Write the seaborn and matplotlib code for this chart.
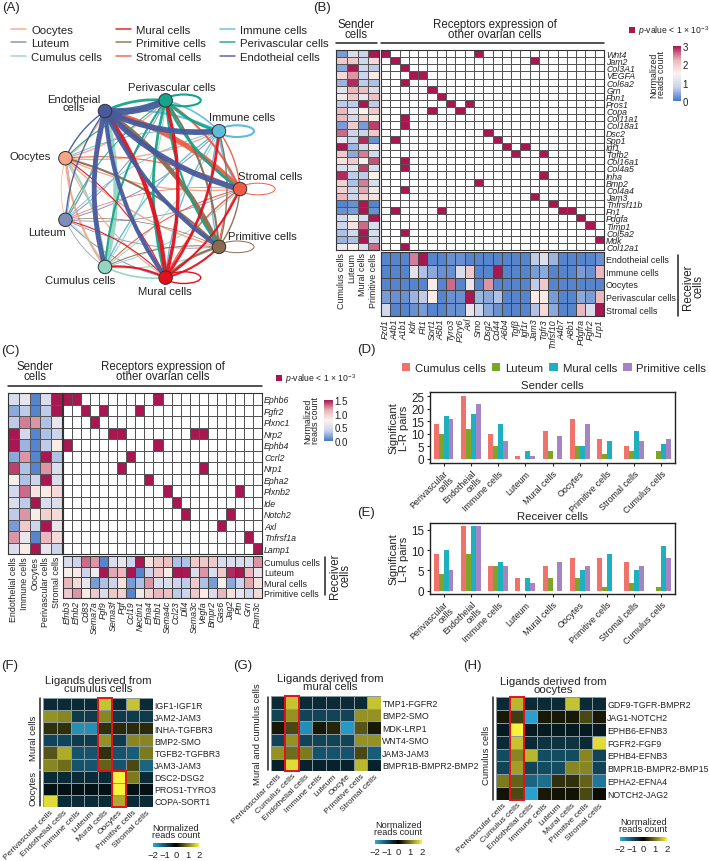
import numpy as np
import pandas as pd
import matplotlib
matplotlib.use('Agg')
import matplotlib.pyplot as plt
import seaborn as sns
from matplotlib.colors import LinearSegmentedColormap, ListedColormap
from matplotlib.lines import Line2D
from matplotlib.patches import Ellipse, FancyArrowPatch, Rectangle, Circle

# --- 1. DATA ---
# (A) network, order follows the circle clockwise from the top
net_cells = ['Perivascular cells', 'Immune cells', 'Stromal cells', 'Primitive cells', 'Mural cells',
             'Cumulus cells', 'Luteum', 'Oocytes', 'Endotheial cells']
net_colors = ['#14a58a', '#5dbcdc', '#ef5b45', '#8b6a4f', '#e3101c', '#92d5c0', '#7e8cb8', '#f7a586', '#475a9c']
net_weights = [
    [1.5, 2.0, 2.0, 1.5, 2.0, 1.5, 0.7, 0.8, 2.0],
    [1.2, 1.5, 1.5, 1.0, 1.0, 1.0, 0.6, 0.7, 1.5],
    [1.5, 1.0, 0.7, 0.8, 1.0, 0.8, 0.5, 0.8, 3.8],
    [1.5, 1.0, 1.0, 0.7, 1.5, 0.7, 0.5, 1.5, 3.5],
    [2.5, 2.0, 1.5, 1.5, 1.0, 1.5, 0.8, 0.8, 3.0],
    [0.8, 0.7, 0.7, 0.8, 1.2, 0.0, 0.5, 1.5, 3.5],
    [0.7, 0.7, 0.6, 0.6, 0.7, 0.5, 0.0, 0.5, 1.0],
    [1.0, 1.0, 1.0, 1.0, 0.8, 1.5, 0.5, 0.0, 0.8],
    [5.0, 4.0, 4.0, 3.0, 3.0, 3.5, 1.0, 1.0, 0.0],
]
legend_order = [7, 6, 5, 4, 3, 2, 1, 0, 8]

# (B)
b_senders = ['Cumulus cells', 'Luteum', 'Mural cells', 'Primitive cells']
b_ligands = ['Wnt4', 'Jam2', 'Col3A1', 'VEGFA', 'Col6a2', 'Grn', 'Fbn1', 'Pros1', 'Copa', 'Col11a1', 'Col18a1',
             'Dsc2', 'Spp1', 'Igf1', 'Tgfb2', 'Col16a1', 'Col4a5', 'Inha', 'Bmp2', 'Col4a4', 'Jam3', 'Tnfrsf11b',
             'Fn1', 'Pdgfa', 'Timp1', 'Col5a2', 'Mdk', 'Col12a1']
b_receptors = ['Fzd1', 'A4b1', 'A1b1', 'Kdr', 'Flt1', 'Sort1', 'A5b1', 'Tyro3', 'P2ry6', 'Axl', 'Smo', 'Dsg2',
               'Cd44', 'A6b4', 'Tgfβ', 'Igf1r', 'Jam3', 'Tgfr3', 'Tnfsf10', 'A4b7', 'A8b1', 'Pdgfra', 'Fgfr2', 'Lrp1']
b_receivers = ['Endotheial cells', 'Immune cells', 'Oocytes', 'Perivascular cells', 'Stromal cells']
b_sender_vals = [
    [.3, 1, .8, 3], [2, 2, .9, 1.8], [.4, 3, .8, .7], [1.8, 2.4, .8, 1.6], [.5, 2.9, .7, .6],
    [1.1, 2.2, 2.1, 1], [1.3, 2, 1.2, 2.1], [.7, .7, 3, .7], [2.2, 1.1, 1.5, 2], [2.2, .9, 2, 1.6],
    [.3, 2, .3, 2.8], [2.6, .8, .8, 2], [1.2, .8, 2.9, .2], [3, .5, .9, 1.3], [2, .4, 2.5, .9],
    [1.7, 2, 1.4, 2.7], [1, 1.1, 2.8, 1], [2.9, .7, .7, 1.5], [1.9, .6, 2.5, 1], [1.9, .8, 2.3, 1.3],
    [2.2, .8, 1.9, 1.7], [.1, .2, 3, .1], [.2, .3, 3, .2], [.9, 1.3, 1, 3], [.8, 1.7, 2.6, 1],
    [.6, .9, 3, 1], [.5, .6, 3, .8], [1.3, 1.5, 1, 2.6],
]
b_hits = [[0, 10], [1, 16], [2], [3, 4], [2], [5], [6], [7, 9], [5, 8], [2], [2], [11], [1, 12], [13, 15],
          [14, 17], [2], [2], [17], [10], [2], [16], [18], [1, 6, 19, 20], [21], [22], [2], [23], [2]]
b_receiver_vals = [
    [.1, .1, .1, 2.5, 3, .1, .1, .2, .2, .1, .1, .1, .1, .1, .1, .1, .7, 1.05, .5, .1, .1, .1, .1, .2],
    [.1, .1, .1, 1.1, .6, .4, .2, .2, 1, 2, .1, .1, 3, .1, .1, .1, .3, .4, .1, .1, .1, .3, .2, 2.2],
    [.1, .1, .1, .1, .1, 1.6, .1, 2.6, .1, 1.2, .1, 2.4, .1, .1, .1, .1, .7, 2, .1, .1, .1, .1, .1, .1],
    [.3, .2, .2, .5, .7, 1.6, .1, .2, .2, 3, .5, .4, .6, .1, .1, .1, 1.6, 1.6, .3, .1, .1, .4, .3, 2.2],
    [.9, .1, .1, .2, .3, .1, .1, .2, .2, 1.2, .8, .4, .2, .1, .1, .1, .6, 1.8, .4, .1, .1, 2.2, 1, 3],
]

# (C)
c_senders = ['Endothelial cells', 'Immune cells', 'Oocytes', 'Perivascular cells', 'Stromal cells']
c_ligands = ['Ephb6', 'Fgfr2', 'Plxnc1', 'Nrp2', 'Ephb4', 'Ccrl2', 'Nrp1', 'Epha2', 'Plxnb2', 'Ide', 'Notch2',
             'Axl', 'Tnfrsf1a', 'Lamp1']
c_receptors = ['Efnb3', 'Efnb2', 'Cd83', 'Sema7a', 'Fgf9', 'Sema3f', 'Pgf', 'Ccl19', 'Nectin1', 'Efna4', 'Efnb1',
               'Sema4c', 'Ccl23', 'Dll4', 'Sema3c', 'Vegfa', 'Bmpr2', 'Gas6', 'Jag2', 'Ptn', 'Grn', 'Fam3c']
c_receivers = ['Cumulus cells', 'Luteum', 'Mural cells', 'Primitive cells']
c_sender_vals = [
    [.5, .6, .05, .5, 1.5], [.2, .35, .05, .35, 1.5], [.35, 1.25, 1.2, .3, .6], [1.5, .45, .05, .3, .4],
    [1.5, .25, .05, .35, .8], [.2, 1.2, .05, 1.5, .3], [1.4, .3, .05, 1.2, .5], [.7, .3, .4, 1.5, .5],
    [.45, 1.3, .85, .8, .9], [.5, .35, 1.5, .5, .5], [.35, 1.2, .8, .95, .9], [.15, 1, .4, 1.5, .6],
    [1.2, .6, .05, 1.1, .9], [.5, .8, 1.5, .6, .4],
]
c_hits = [[0, 1, 10], [2, 4, 8], [3], [5, 6, 14, 15], [0, 10], [7], [6, 15], [9], [11, 19], [12], [13, 18],
          [17], [20], [21]]
c_receiver_vals = [
    [.5, .4, 1.3, 1.2, .05, .5, .6, .4, 1.5, .85, 1, 1.05, .3, .3, 1, 1, 1, .5, .5, .5, .5, 1.2],
    [.7, .8, .4, .65, 1.5, 1.15, 1.1, 1.5, .05, .4, 1, .8, 1.5, 1.5, .5, 1.2, .5, 1, 1.45, 1.5, 1.1, .6],
    [1.1, .9, .6, .15, .3, .4, .85, .15, .3, 1.2, .5, .5, .4, .35, 1, .3, .15, .7, .2, .4, 1.15, .85],
    [1, 1.2, .8, 1, .5, 1, .95, .05, .65, .95, 1.1, 1.05, .35, .4, 1, .8, .5, 1.1, .85, .6, .45, .9],
]

# (D) and (E)
bar_groups = ['Perivascular\ncells', 'Endotheial\ncells', 'Immune cells', 'Luteum', 'Mural cells', 'Oocytes',
              'Primitive cells', 'Stromal cells', 'Cumulus cells']
bar_series = ['Cumulus cells', 'Luteum', 'Mural cells', 'Primitive cells']
bar_colors = ['#f0736b', '#7ea529', '#1fb0bf', '#a583c4']
sender_counts = [[14, 25, 10, 1, 11, 16, 8, 5, 0], [10, 12, 5, 0, 3, 5, 2, 3, 3],
                 [17, 18, 14, 3, 0, 5, 7, 11, 6], [16, 22, 7, 1, 9, 14, 0, 7, 8]]
receiver_counts = [[9, 16, 6, 3, 6, 8, 8, 7, 0], [4, 9, 6, 0, 3, 3, 1, 2, 1],
                   [10, 16, 7, 3, 0, 5, 9, 5, 11], [5, 16, 6, 2, 7, 6, 0, 6, 8]]

# (F) (G) (H)
f_cols = ['Perivascular cells', 'Endothelial cells', 'Immune cells', 'Luteum', 'Mural cells', 'Oocytes',
          'Primitive cells', 'Stromal cells']
f_rows = ['IGF1-IGF1R', 'JAM2-JAM3', 'INHA-TGFBR3', 'BMP2-SMO', 'TGFB2-TGFBR3', 'JAM3-JAM3', 'DSC2-DSG2',
          'PROS1-TYRO3', 'COPA-SORT1']
f_vals = [[-.5, -.5, -.5, -.5, 1.6, -.5, 1.6, -.5], [1.2, 1.1, -.7, -.7, 1.1, -.7, -.7, -.7],
          [.4, .4, -1.7, -1.7, .4, .35, .35, .35], [-.8, -.8, -.7, -.7, 1.2, -.7, 1.1, 1.1],
          [.7, 1.4, -1, -1, .4, -1, -1.1, 1], [1.1, .9, -1, -1, .8, -1, .6, -1.2],
          [-.5, -.5, -.5, -.5, -.5, 2, 1, -.5], [-.2, -.2, -.2, -.2, -.2, 2, -.2, -.2],
          [1.8, -.5, -.5, -.5, -.5, 1.4, -.5, -.5]]
g_cols = ['Perivascular cells', 'Cumulus cells', 'Endothelial cells', 'Immune cells', 'Luteum', 'Oocyte',
          'Primitive cells', 'Stromal cells']
g_rows = ['TMP1-FGFR2', 'BMP2-SMO', 'MDK-LRP1', 'WNT4-SMO', 'JAM3-JAM3', 'BMPR1B-BMPR2-BMP2']
g_vals = [[-.5, 1.6, -.5, -.5, -.5, -.5, -.5, 1.6], [-.8, 1.2, -.8, -.8, -.8, -.8, 1.2, 1.2],
          [.2, .6, -1.7, .2, .3, -1.8, .7, .2], [-.8, 1.2, -.8, -.8, -.8, -.8, 1.2, 1.2],
          [1.2, .9, 1, -1, -1, -1, .6, -1.1], [-.4, 1.8, -.4, -.4, -.4, -.4, 1.5, -.4]]
h_cols = ['Perivascular cells', 'Cumulus cells', 'Endothelial cells', 'Immune cells', 'Luteum', 'Mural cells',
          'Primitive cells', 'Stromal cells']
h_rows = ['GDF9-TGFR-BMPR2', 'JAG1-NOTCH2', 'EPHB6-EFNB3', 'FGFR2-FGF9', 'EPHB4-EFNB3', 'BMPR1B-BMPR2-BMP15',
          'EPHA2-EFNA4', 'NOTCH2-JAG2']
h_vals = [[-.5, 1.5, -.5, -.5, -.5, 1.6, -.5, -.5], [.2, .5, -1.9, .2, .2, .2, .6, .2],
          [-.3, 2, -.3, -.3, -.3, -.3, -.3, -.3], [-.5, 1.6, -.5, -.6, -.6, -.6, -.5, 1.8],
          [-.9, 1.1, 1.5, -.9, -.9, -.9, 1.1, -.8], [-.8, 1.3, -.8, -.9, -.9, 1.1, 1.1, -.8],
          [1, .8, -1.2, -1.3, .4, .4, .8, -1.4], [.15, .6, -1.9, .2, .15, .15, .6, .1]]

# --- 2. SETUP ---
W, H = 709, 862
sns.set_theme(style='white')
plt.rcParams['font.family'] = ['Liberation Sans', 'DejaVu Sans']
plt.rcParams['mathtext.fontset'] = 'custom'
plt.rcParams['mathtext.rm'] = 'Liberation Sans'
plt.rcParams['mathtext.it'] = 'Liberation Sans:italic'
TXT = '#222222'

fig = plt.figure(figsize=(W / 100, H / 100), dpi=100)
rdbu = LinearSegmentedColormap.from_list('rb', ['#4679c8', '#c9d3ec', '#fdf3ec', '#e9b4bb', '#a8174f'])
hit_cmap = ListedColormap(['white', '#a8174f'])
byk = LinearSegmentedColormap.from_list('byk', ['#2aa9d8', '#000000', '#f6f23e'])


def ax_px(x0, y0, x1, y1):
    return fig.add_axes([x0 / W, 1 - y1 / H, (x1 - x0) / W, (y1 - y0) / H])


def txt(x, y, s, size=8, ha='center', va='center', **kw):
    fig.text(x / W, 1 - y / H, s, fontsize=size, ha=ha, va=va, color=TXT, linespacing=0.85, **kw)


def line_px(x0, y0, x1, y1, lw=1.1):
    fig.add_artist(Line2D([x0 / W, x1 / W], [1 - y0 / H, 1 - y1 / H], color='#222222', lw=lw))


def square_px(x, y, size=5.5):
    fig.add_artist(Rectangle((x / W, 1 - (y + size) / H), size / W, size / H, fc='#a8174f', ec='none',
                             transform=fig.transFigure))


def hit_frame(rows, cols, hits):
    m = np.zeros((len(rows), len(cols)))
    for i, idx in enumerate(hits):
        m[i, idx] = 1
    return pd.DataFrame(m, index=rows, columns=cols)


def expr_panel(s_box, m_box, r_box, cb_box, senders, ligands, receptors, receivers,
               s_vals, hits, r_vals, vmax, ticks, fmt):
    # sender heat, interaction grid and receiver heat share one colour scale
    ax_s = ax_px(*s_box)
    sns.heatmap(pd.DataFrame(s_vals, index=ligands, columns=senders), ax=ax_s, cmap=rdbu, vmin=0, vmax=vmax,
                cbar=False, linewidths=0.4, linecolor='#555555', xticklabels=True, yticklabels=False)
    ax_s.set_xticklabels(senders, rotation=90, fontsize=6.4, color=TXT)
    ax_m = ax_px(*m_box)
    sns.heatmap(hit_frame(ligands, receptors, hits), ax=ax_m, cmap=hit_cmap, vmin=0, vmax=1, cbar=False,
                linewidths=0.6, linecolor='#555555', xticklabels=False, yticklabels=True)
    ax_m.yaxis.tick_right()
    ax_m.set_yticklabels(ligands, rotation=0, fontsize=6.3, style='italic', color=TXT)
    ax_r = ax_px(*r_box)
    cb_ax = ax_px(*cb_box)
    sns.heatmap(pd.DataFrame(r_vals, index=receivers, columns=receptors), ax=ax_r, cmap=rdbu, vmin=0, vmax=vmax,
                cbar_ax=cb_ax, linewidths=0.5, linecolor='#444444', xticklabels=True, yticklabels=True)
    ax_r.yaxis.tick_right()
    ax_r.set_yticklabels(receivers, rotation=0, fontsize=6.4, color=TXT)
    ax_r.set_xticklabels(receptors, rotation=90, fontsize=6.4, style='italic', color=TXT)
    cb_ax.set_yticks(ticks)
    cb_ax.set_yticklabels([fmt % t for t in ticks], fontsize=7, color=TXT)
    cb_ax.tick_params(length=0, pad=1)
    for ax in (ax_s, ax_m, ax_r):
        ax.tick_params(length=0, pad=1.5)
        ax.set_xlabel('')
        ax.set_ylabel('')
        for sp in ax.spines.values():
            sp.set_visible(True)
            sp.set_color('#333333')
            sp.set_linewidth(0.8)


def ligand_panel(box, cb_box, rows, cols, vals, boxes):
    ax = ax_px(*box)
    cb_ax = ax_px(*cb_box)
    sns.heatmap(pd.DataFrame(vals, index=rows, columns=cols), ax=ax, cmap=byk, vmin=-2, vmax=2, cbar_ax=cb_ax,
                cbar_kws={'orientation': 'horizontal'}, linewidths=0.4, linecolor='#8a9aa0',
                xticklabels=True, yticklabels=True)
    ax.yaxis.tick_right()
    ax.set_yticklabels(rows, rotation=0, fontsize=6.3, color=TXT)
    ax.set_xticklabels(cols, rotation=45, ha='right', rotation_mode='anchor', fontsize=6.1, color=TXT)
    ax.tick_params(length=0, pad=1)
    for col, row, n in boxes:
        ax.add_patch(Rectangle((col, row), 1, n, fill=False, ec='#e3101c', lw=1.4, clip_on=False, zorder=5))
    cb_ax.set_xticks([-2, -1, 0, 1, 2])
    cb_ax.set_xticklabels(['\u22122', '\u22121', '0', '1', '2'], fontsize=6.8, color=TXT)
    cb_ax.tick_params(length=0, pad=2)
    x = (cb_box[0] + cb_box[2]) / 2
    txt(x, cb_box[1] - 12, 'Normalized\nreads count', size=6.6)


def bar_panel(box, counts, title, ylim, yticks):
    ax = ax_px(*box)
    long_df = pd.DataFrame(np.array(counts).T, index=bar_groups, columns=bar_series).reset_index().melt(
        id_vars='index', var_name='series', value_name='pairs')
    sns.barplot(data=long_df, x='index', y='pairs', hue='series', palette=bar_colors, width=0.72, ax=ax,
                legend=False, saturation=1, linewidth=0)
    ax.set_ylim(*ylim)
    ax.set_yticks(yticks)
    ax.tick_params(axis='y', labelsize=8.4, labelcolor=TXT, length=2.5, width=0.8, left=True, pad=1.5)
    ax.tick_params(axis='x', length=2.5, width=0.8, bottom=True, pad=1.5)
    ax.set_xticks(range(len(bar_groups)))
    ax.set_xticklabels(bar_groups, rotation=45, ha='right', rotation_mode='anchor', fontsize=6.4, color=TXT,
                       linespacing=0.95)
    ax.set_xlabel('')
    ax.set_ylabel('Significant\nL-R pairs', fontsize=8, color=TXT, labelpad=2, linespacing=1.0)
    ax.set_title(title, fontsize=8.2, color=TXT, pad=3)
    for sp in ax.spines.values():
        sp.set_color('#222222')
        sp.set_linewidth(1.0)


# --- 3. PANEL A ---
ax_net = ax_px(15, 85, 285, 295)
ax_net.set_xlim(-135 / 90, 135 / 90)
ax_net.set_ylim(-105 / 90, 105 / 90)
ax_net.axis('off')
angles = np.deg2rad(80 - 40 * np.arange(len(net_cells)))
node_xy = np.column_stack([np.cos(angles), np.sin(angles)])
weights = np.array(net_weights)
for i in np.argsort(weights.sum(axis=1)):
    for j in range(len(net_cells)):
        w = weights[i, j]
        if w == 0:
            continue
        if i == j:
            ax_net.add_patch(Ellipse(node_xy[i] + [0.2, 0], 0.38, 0.13, fill=False, ec=net_colors[i], lw=w, zorder=1))
        else:
            ax_net.add_patch(FancyArrowPatch(node_xy[i], node_xy[j], connectionstyle='arc3,rad=0.14',
                                             arrowstyle='-', color=net_colors[i], lw=w, alpha=0.95, zorder=1,
                                             shrinkA=0, shrinkB=0))
for xy, c in zip(node_xy, net_colors):
    ax_net.add_patch(Circle(xy, 0.075, fc=c, ec='#333333', lw=0.7, zorder=3))

node_label_px = [(172, 88), (242, 118), (270, 177), (262, 237), (165, 292), (80, 281), (47, 233), (30, 157),
                 (74, 104)]
for name, (x, y) in zip(net_cells, node_label_px):
    txt(x, y, name.replace('Endotheial cells', 'Endotheial\ncells'), size=8.1)

legend_handles = [Line2D([], [], color=net_colors[k], lw=1.1, alpha=0.9) for k in legend_order]
fig.legend(legend_handles, [net_cells[k] for k in legend_order], ncol=3, loc='upper left',
           bbox_to_anchor=(5 / W, 1 - 20 / H), frameon=False, fontsize=8.2, handlelength=1.35, handletextpad=0.45,
           columnspacing=1.2, labelspacing=0.32, borderpad=0, labelcolor=TXT)

# --- 4. PANEL B / C ---
expr_panel((336, 51, 379, 251), (381, 51, 604, 251), (381, 253, 604, 317), (673, 47, 681, 102),
           b_senders, b_ligands, b_receptors, b_receivers, b_sender_vals, b_hits, b_receiver_vals, 3,
           [0, 1, 2, 3], '%d')
txt(356, 30, 'Sender\ncells', size=8.3)
txt(495, 30, 'Receptors expression of\nother ovarian cells', size=8.3)
line_px(336, 44, 377, 44)
line_px(381, 44, 604, 44)
square_px(629, 28)
txt(638, 31, r'$\it{p}$-value < 1 × 10$^{-3}$', size=6.2, ha='left')
txt(658, 75, 'Normalized\nreads count', size=6.4, rotation=90)
line_px(678, 256, 678, 317)
txt(693, 287, 'Receiver\ncells', size=8.3, rotation=90)

expr_panel((8, 394, 62, 555), (63, 394, 262, 555), (63, 557, 262, 599), (324, 401, 333, 442),
           c_senders, c_ligands, c_receptors, c_receivers, c_sender_vals, c_hits, c_receiver_vals, 1.5,
           [0, 0.5, 1, 1.5], '%.1f')
txt(35, 372, 'Sender\ncells', size=8.3)
txt(163, 372, 'Receptors expression of\nother ovarian cells', size=8.3)
line_px(8, 387, 62, 387)
line_px(63, 387, 262, 387)
square_px(276, 376)
txt(285, 379, r'$\it{p}$-value < 1 × 10$^{-3}$', size=6.2, ha='left')
txt(312, 421, 'Normalized\nreads count', size=6.4, rotation=90)
line_px(325, 558, 325, 596)
txt(340, 576, 'Receiver\ncells', size=8.3, rotation=90)

# --- 5. PANEL D / E ---
bar_panel((430, 393, 675, 464), sender_counts, 'Sender cells', (-1.6, 26.6), [0, 5, 10, 15, 20, 25])
bar_panel((430, 524, 675, 595), receiver_counts, 'Receiver cells', (-0.83, 16.7), [0, 5, 10, 15])
bar_handles = [Rectangle((0, 0), 1, 1, fc=c, ec='none') for c in bar_colors]
fig.legend(bar_handles, bar_series, ncol=4, loc='center left', bbox_to_anchor=(396 / W, 1 - 369 / H), frameon=False,
           fontsize=8.2, handlelength=0.75, handleheight=0.75, handletextpad=0.4, columnspacing=0.55, borderpad=0,
           labelcolor=TXT)

# --- 6. PANEL F / G / H ---
ligand_panel((43, 699, 153, 808), (153, 844, 199, 848), f_rows, f_cols, f_vals, [(4, 0, 6), (5, 6, 3)])
txt(98, 685, 'Ligands derived from\ncumulus cells', size=8.2)
line_px(40, 699, 40, 770)
line_px(40, 772, 40, 807)
txt(33, 738, 'Mural cells', size=6.8, rotation=90)
txt(33, 788, 'Oocytes', size=6.8, rotation=90)

ligand_panel((271, 697, 381, 772), (375, 841, 422, 845), g_rows, g_cols, g_vals, [(1, 0, 6)])
txt(330, 683, 'Ligands derived from\nmural cells', size=8.2)
line_px(268, 698, 268, 771)
txt(258, 734, 'Mural and cumulus cells', size=6.8, rotation=90)

ligand_panel((496, 698, 606, 801), (620, 838, 667, 842), h_rows, h_cols, h_vals, [(1, 0, 8)])
txt(553, 686, 'Ligands derived from\noocytes', size=8.2)
line_px(493, 698, 493, 801)
txt(486, 755, 'Cumulus cells', size=6.8, rotation=90)

# panel letters
for s, x, y in [('(A)', 2, 8), ('(B)', 313, 8), ('(C)', 1, 351), ('(D)', 357, 350), ('(E)', 357, 513),
                ('(F)', 1, 666), ('(G)', 233, 666), ('(H)', 463, 666)]:
    txt(x, y, s, size=9.5, ha='left')

fig.savefig('out.png', dpi=100)
